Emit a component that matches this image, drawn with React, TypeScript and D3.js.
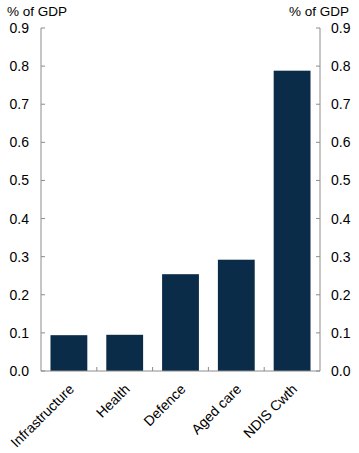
import React from 'react';
import * as d3 from 'd3';

const categories = ['Infrastructure', 'Health', 'Defence', 'Aged care', 'NDIS Cwth'];
const values = [0.094, 0.095, 0.254, 0.292, 0.788];
const yTicks = [0, 0.1, 0.2, 0.3, 0.4, 0.5, 0.6, 0.7, 0.8, 0.9];
const unitLabel = '% of GDP';

const W = 359;
const H = 453;
const m = { top: 28, right: 39, bottom: 82, left: 41 };

const App: React.FC = () => {
    const x = d3.scaleBand<string>()
        .domain(categories)
        .range([m.left, W - m.right])
        .paddingInner(0.34)
        .paddingOuter(0.17);
    const y = d3.scaleLinear().domain([0, 0.9]).range([H - m.bottom, m.top]);

    const axisColor = '#8c8c8c';
    const font = '"Liberation Sans", Arial, sans-serif';
    const step = (W - m.right - m.left) / categories.length;

    return (
        <svg width={W} height={H} style={{ position: 'absolute', left: 0, top: 0 }} fontFamily={font}>
            <text x={7} y={16} fontSize={13.5}>{unitLabel}</text>
            <text x={W - 10} y={16} fontSize={13.5} textAnchor="end">{unitLabel}</text>

            {/* barras */}
            {categories.map((c, i) => (
                <rect key={c} x={x(c)} y={y(values[i])} width={x.bandwidth()}
                    height={y(0) - y(values[i])} fill="#0b2c48" />
            ))}

            {/* ejes */}
            <line x1={m.left} x2={m.left} y1={m.top} y2={y(0)} stroke={axisColor} />
            <line x1={W - m.right} x2={W - m.right} y1={m.top} y2={y(0)} stroke={axisColor} />
            <line x1={m.left} x2={W - m.right} y1={y(0)} y2={y(0)} stroke={axisColor} />

            {yTicks.map(t => (
                <g key={t}>
                    <line x1={m.left} x2={m.left + 4} y1={y(t)} y2={y(t)} stroke={axisColor} />
                    <line x1={W - m.right - 4} x2={W - m.right} y1={y(t)} y2={y(t)} stroke={axisColor} />
                    <text x={m.left - 12} y={y(t)} dy="0.36em" fontSize={14} textAnchor="end">{t.toFixed(1)}</text>
                    <text x={W - m.right + 11} y={y(t)} dy="0.36em" fontSize={14}>{t.toFixed(1)}</text>
                </g>
            ))}

            {d3.range(1, categories.length).map(i => (
                <line key={i} x1={m.left + i * step} x2={m.left + i * step}
                    y1={y(0)} y2={y(0) - 4} stroke={axisColor} />
            ))}

            {categories.map(c => {
                const cx = (x(c) ?? 0) + x.bandwidth() / 2 + 6;
                const cy = y(0) + 19;
                return (
                    <text key={c} x={cx} y={cy} fontSize={14} textAnchor="end"
                        transform={`rotate(-45 ${cx} ${cy})`}>{c}</text>
                );
            })}
        </svg>
    );
};

export default App;
